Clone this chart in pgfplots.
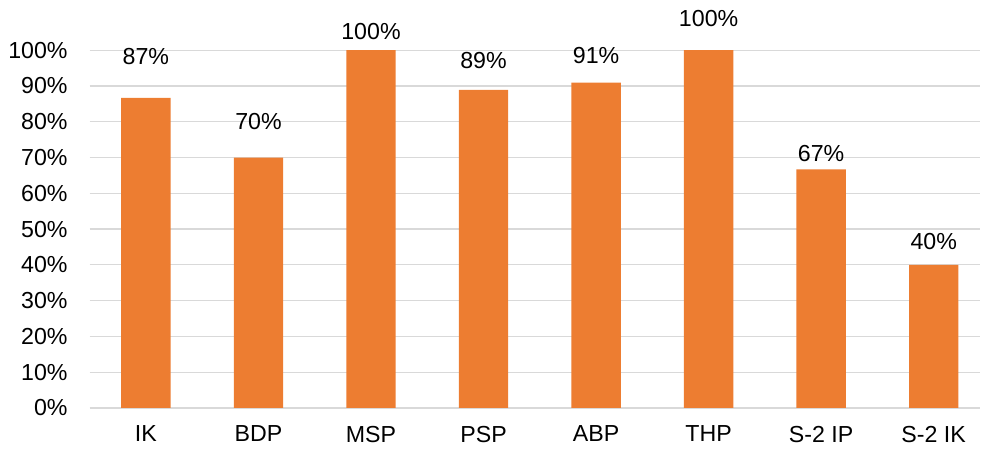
\documentclass[border=0pt]{standalone}
\usepackage{fontspec}
\setmainfont{Liberation Sans}
\usepackage{pgfplots}
\pgfplotsset{compat=1.18}
\definecolor{barc}{HTML}{ED7D31}
\definecolor{gridc}{HTML}{D9D9D9}
\begin{document}
\begin{tikzpicture}
\begin{axis}[
  scale only axis, width=445.65pt, height=204pt,
  xmin=-0.5, xmax=7.415, ymin=0, ymax=113.97,
  axis line style={draw=none},
  major tick length=0pt,
  ymajorgrids, grid style={gridc, line width=0.6pt},
  ytick={0,10,...,100},
  yticklabel={\pgfmathprintnumber{\tick}\%},
  xtick={0,...,7},
  xticklabels={IK,BDP,MSP,PSP,ABP,THP,S-2 IP,S-2 IK},
  tick label style={font=\fontsize{11.6}{13}\selectfont, text=black},
  yticklabel style={xshift=-7.5pt},
  xticklabel style={yshift=-5.5pt},
  /pgf/number format/assume math mode=true,
  clip=false,
]
\addplot[ybar, bar width=24.7pt, bar shift=0pt, fill=barc, draw=none] table {
x y
0 86.7
1 70
2 100
3 88.9
4 90.9
5 100
6 66.7
7 40
};
\addplot[draw=none, mark=none, point meta=explicit,
  nodes near coords={\pgfmathprintnumber{\pgfplotspointmeta}\%},
  nodes near coords style={anchor=center, font=\fontsize{11.6}{13}\selectfont, text=black}]
  table[x=x, y=ly, meta=v] {
x ly v
0 98.2 87
1 80.0 70
2 105.3 100
3 97.2 89
4 98.6 91
5 108.8 100
6 71.2 67
7 46.4 40
};
\end{axis}
\path ([shift={(-44.85pt,-21pt)}]current axis.south west);
\end{tikzpicture}
\end{document}
